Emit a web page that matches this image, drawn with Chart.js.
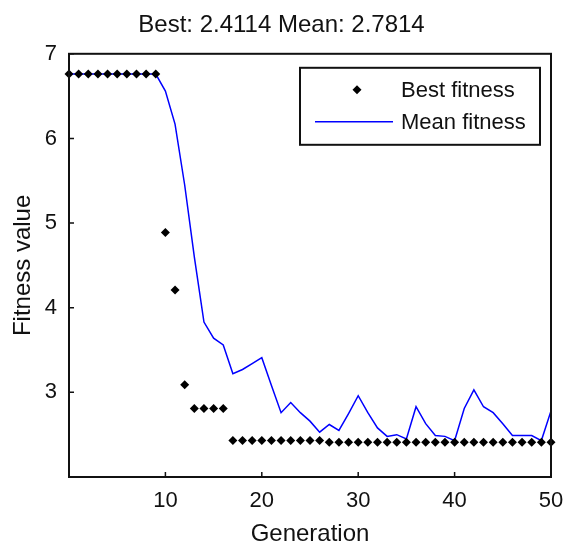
<!DOCTYPE html>
<html>
<head>
<meta charset="utf-8">
<script src="https://cdn.jsdelivr.net/npm/chart.js@4.4.1/dist/chart.umd.min.js"></script>
<style>
  html, body { margin: 0; padding: 0; background: #fff; }
  #wrap { width: 563px; height: 544px; }
</style>
</head>
<body>
<div id="wrap"><canvas id="gaChart" width="563" height="544"></canvas></div>
<script>
const generations = [
    0, 1, 2, 3, 4, 5, 6, 7, 8, 9,
    10, 11, 12, 13, 14, 15, 16, 17, 18, 19,
    20, 21, 22, 23, 24, 25, 26, 27, 28, 29,
    30, 31, 32, 33, 34, 35, 36, 37, 38, 39,
    40, 41, 42, 43, 44, 45, 46, 47, 48, 49,
    50,
];

const bestFitness = [
    6.76, 6.76, 6.76, 6.76, 6.76, 6.76, 6.76, 6.76, 6.76, 6.76,
    4.89, 4.21, 3.09, 2.81, 2.81, 2.81, 2.81, 2.43, 2.43, 2.43,
    2.43, 2.43, 2.43, 2.43, 2.43, 2.43, 2.43, 2.4114, 2.4114, 2.4114,
    2.4114, 2.4114, 2.4114, 2.4114, 2.4114, 2.4114, 2.4114, 2.4114, 2.4114, 2.4114,
    2.4114, 2.4114, 2.4114, 2.4114, 2.4114, 2.4114, 2.4114, 2.4114, 2.4114, 2.4114,
    2.4114,
];

const meanFitness = [
    6.76, 6.76, 6.76, 6.76, 6.76, 6.76, 6.76, 6.76, 6.76, 6.76,
    6.56, 6.17, 5.45, 4.6, 3.83, 3.64, 3.56, 3.22, 3.27, 3.34,
    3.41, 3.08, 2.76, 2.88, 2.76, 2.66, 2.53, 2.62, 2.55, 2.75,
    2.96, 2.76, 2.58, 2.48, 2.5, 2.45, 2.83, 2.63, 2.49, 2.48,
    2.43, 2.81, 3.03, 2.83, 2.76, 2.63, 2.49, 2.49, 2.49, 2.43,
    2.7814,
];

const xTicks = [10, 20, 30, 40, 50];
const yTicks = [3, 4, 5, 6, 7];

const FAMILY = '"Liberation Sans", Arial, sans-serif';
const TICK_FONT = { family: FAMILY, size: 22 };
const LABEL_FONT = { family: FAMILY, size: 24, lineHeight: 1 };
const INK = '#111';

const bestPoints = generations.map((g, i) => ({ x: g, y: bestFitness[i] }));
const meanPoints = generations.map((g, i) => ({ x: g, y: meanFitness[i] }));

const last = a => a[a.length - 1];
const titleText = 'Best: ' + last(bestFitness).toFixed(4) + ' Mean: ' + last(meanFitness).toFixed(4);

// box around the axes, inward ticks and the boxed legend
const frame = {
    id: 'frame',
    afterDatasetsDraw(chart) {
        const { ctx, chartArea: a, scales: { x, y } } = chart;
        ctx.save();
        ctx.strokeStyle = INK;
        ctx.lineWidth = 2;
        ctx.strokeRect(a.left, a.top, a.right - a.left, a.bottom - a.top);

        ctx.lineWidth = 1.5;
        ctx.beginPath();
        x.ticks.forEach(t => {
            const px = x.getPixelForValue(t.value);
            ctx.moveTo(px, a.bottom);
            ctx.lineTo(px, a.bottom - 5);
        });
        y.ticks.forEach(t => {
            const py = y.getPixelForValue(t.value);
            ctx.moveTo(a.left, py);
            ctx.lineTo(a.left + 5, py);
        });
        ctx.stroke();

        // legend
        const lx = a.right - 251, ly = a.top + 14, lw = 240, lh = 77;
        ctx.fillStyle = '#fff';
        ctx.fillRect(lx, ly, lw, lh);
        ctx.lineWidth = 2;
        ctx.strokeRect(lx, ly, lw, lh);

        const best = chart.data.datasets[0];
        const mean = chart.data.datasets[1];
        const row1 = ly + 22, row2 = ly + 54;

        ctx.fillStyle = best.backgroundColor;
        ctx.beginPath();
        ctx.moveTo(lx + 57 - 4.5, row1);
        ctx.lineTo(lx + 57, row1 - 4.5);
        ctx.lineTo(lx + 57 + 4.5, row1);
        ctx.lineTo(lx + 57, row1 + 4.5);
        ctx.closePath();
        ctx.fill();

        ctx.strokeStyle = mean.borderColor;
        ctx.lineWidth = mean.borderWidth;
        ctx.beginPath();
        ctx.moveTo(lx + 15, row2);
        ctx.lineTo(lx + 93, row2);
        ctx.stroke();

        ctx.fillStyle = INK;
        ctx.font = TICK_FONT.size + 'px ' + FAMILY;
        ctx.textBaseline = 'middle';
        ctx.textAlign = 'left';
        ctx.fillText(best.label, lx + 101, row1 + 1);
        ctx.fillText(mean.label, lx + 101, row2 + 1);
        ctx.restore();
    }
};

new Chart(document.getElementById('gaChart'), {
    type: 'line',
    data: {
        datasets: [{
            label: 'Best fitness',
            data: bestPoints,
            showLine: false,
            pointStyle: 'rectRot',
            pointRadius: 4.5,
            backgroundColor: '#000',
            borderColor: '#000',
            pointBorderWidth: 0,
            clip: false,
        }, {
            label: 'Mean fitness',
            data: meanPoints,
            borderColor: '#0000ff',
            borderWidth: 1.5,
            pointRadius: 0,
            tension: 0,
            fill: false,
        }]
    },
    options: {
        responsive: false,
        animation: false,
        layout: { padding: { left: 0, right: 0, top: 0, bottom: 0 } },
        plugins: {
            legend: { display: false },
            tooltip: { enabled: false },
            title: {
                display: true,
                text: titleText,
                color: INK,
                font: { family: FAMILY, size: 24, weight: 'normal', lineHeight: 1.2 },
                padding: { top: 11, bottom: 14 },
            },
        },
        scales: {
            x: {
                type: 'linear',
                min: 0,
                max: 50,
                afterBuildTicks: s => { s.ticks = xTicks.map(v => ({ value: v })); },
                afterFit: s => { s.height = 67; s.paddingRight = 12; },
                grid: { drawOnChartArea: false, drawTicks: false },
                border: { display: false },
                ticks: { color: INK, font: TICK_FONT, padding: 11, maxRotation: 0 },
                title: { display: true, text: 'Generation', color: INK, font: LABEL_FONT, padding: { top: 0, bottom: -2 } },
            },
            y: {
                min: 2,
                max: 7,
                afterBuildTicks: s => { s.ticks = yTicks.map(v => ({ value: v })); },
                afterFit: s => { s.width = 69; },
                grid: { drawOnChartArea: false, drawTicks: false },
                border: { display: false },
                ticks: { color: INK, font: TICK_FONT, padding: 12 },
                title: { display: true, text: 'Fitness value', color: INK, font: LABEL_FONT, padding: { top: 11, bottom: 0 } },
            }
        }
    },
    plugins: [frame]
});
</script>
</body>
</html>
